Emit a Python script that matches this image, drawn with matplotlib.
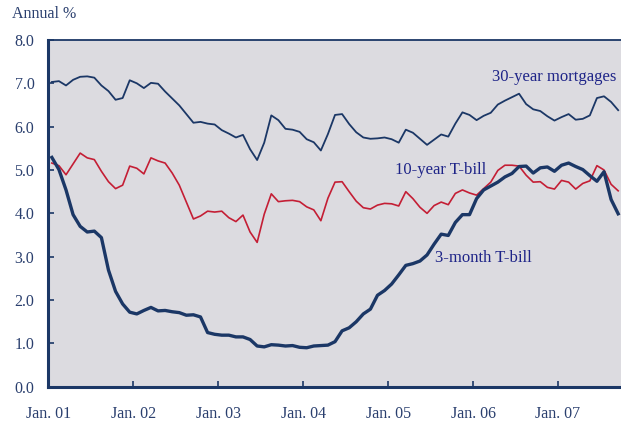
import matplotlib
matplotlib.use("Agg")
import matplotlib.pyplot as plt
import numpy as np

# monthly, Jan 2001 - Sep 2007
bill_3m = [5.29, 5.01, 4.54, 3.97, 3.70, 3.57, 3.59, 3.44, 2.69, 2.20, 1.91, 1.72,
           1.68, 1.76, 1.83, 1.75, 1.76, 1.73, 1.71, 1.65, 1.66, 1.61, 1.25, 1.21,
           1.19, 1.19, 1.15, 1.15, 1.09, 0.94, 0.92, 0.97, 0.96, 0.94, 0.95, 0.91,
           0.90, 0.94, 0.95, 0.96, 1.04, 1.29, 1.36, 1.50, 1.68, 1.79, 2.11, 2.22,
           2.37, 2.58, 2.80, 2.84, 2.90, 3.04, 3.29, 3.52, 3.49, 3.79, 3.97, 3.97,
           4.34, 4.54, 4.63, 4.72, 4.84, 4.92, 5.08, 5.09, 4.93, 5.05, 5.07, 4.97,
           5.11, 5.16, 5.08, 5.01, 4.87, 4.74, 4.96, 4.32, 3.99]
note_10y = [5.16, 5.10, 4.89, 5.14, 5.39, 5.28, 5.24, 4.97, 4.73, 4.57, 4.65, 5.09,
            5.04, 4.91, 5.28, 5.21, 5.16, 4.93, 4.65, 4.26, 3.87, 3.94, 4.05, 4.03,
            4.05, 3.90, 3.81, 3.96, 3.57, 3.33, 3.98, 4.45, 4.27, 4.29, 4.30, 4.27,
            4.15, 4.08, 3.83, 4.35, 4.72, 4.73, 4.50, 4.28, 4.13, 4.10, 4.19, 4.23,
            4.22, 4.17, 4.50, 4.34, 4.14, 4.00, 4.18, 4.26, 4.20, 4.46, 4.54, 4.47,
            4.42, 4.57, 4.72, 4.99, 5.11, 5.11, 5.09, 4.88, 4.72, 4.73, 4.60, 4.56,
            4.76, 4.72, 4.56, 4.69, 4.75, 5.10, 5.00, 4.67, 4.52]
mortgage_30y = [7.03, 7.05, 6.95, 7.08, 7.15, 7.16, 7.13, 6.95, 6.82, 6.62, 6.66, 7.07,
                7.00, 6.89, 7.01, 6.99, 6.81, 6.65, 6.49, 6.29, 6.09, 6.11, 6.07, 6.05,
                5.92, 5.84, 5.75, 5.81, 5.48, 5.23, 5.63, 6.26, 6.15, 5.95, 5.93, 5.88,
                5.71, 5.64, 5.45, 5.83, 6.27, 6.29, 6.06, 5.87, 5.75, 5.72, 5.73, 5.75,
                5.71, 5.63, 5.93, 5.86, 5.72, 5.58, 5.70, 5.82, 5.77, 6.07, 6.33, 6.27,
                6.15, 6.25, 6.32, 6.51, 6.60, 6.68, 6.76, 6.52, 6.40, 6.36, 6.24, 6.14,
                6.22, 6.29, 6.16, 6.18, 6.26, 6.66, 6.70, 6.57, 6.38]
tick_labels = ["Jan. 01", "Jan. 02", "Jan. 03", "Jan. 04", "Jan. 05", "Jan. 06", "Jan. 07"]

navy = "#1B3766"
text_navy = "#2A3F6E"
label_blue = "#1E2488"
red = "#C41E35"

plt.rcParams["font.family"] = ["Liberation Serif", "DejaVu Serif"]

fig = plt.figure(figsize=(6.21, 4.25), dpi=100)
ax = fig.add_axes([0.0778, 0.090, 0.9222, 0.816])
ax.set_facecolor("#DCDBE0")

months = np.arange(len(bill_3m)) + 0.5
ax.plot(months, mortgage_30y, color=navy, lw=1.3)
ax.plot(months, note_10y, color=red, lw=1.2)
ax.plot(months, bill_3m, color=navy, lw=2.4)

ax.set_xlim(0, 80.9)
ax.set_ylim(0, 8)
ax.set_xticks(np.arange(len(tick_labels)) * 12)
ax.set_xticklabels(tick_labels)
ax.set_yticks(np.arange(0, 8.1, 1.0))
ax.set_yticklabels([f"{v:.1f}" for v in np.arange(0, 8.1, 1.0)])

for side in ["left", "bottom"]:
    ax.spines[side].set_color(navy)
    ax.spines[side].set_linewidth(2.2)
ax.spines["top"].set_color(navy)
ax.spines["top"].set_linewidth(1.3)
ax.spines["right"].set_visible(False)

ax.tick_params(axis="both", direction="in", length=4, width=1.2, color=navy,
               labelcolor=text_navy, labelsize=11.5)
ax.tick_params(axis="x", pad=14)
ax.tick_params(axis="y", pad=10)

fig.text(0.019, 0.967, "Annual %", color=text_navy, fontsize=11.5, va="center")

ax.text(0.775, 0.892, "30-year mortgages", transform=ax.transAxes,
        color=label_blue, fontsize=12, va="center")
ax.text(0.605, 0.624, "10-year T-bill", transform=ax.transAxes,
        color=label_blue, fontsize=12, va="center")
ax.text(0.675, 0.370, "3-month T-bill", transform=ax.transAxes,
        color=label_blue, fontsize=12, va="center")

fig.savefig("out.png", dpi=100, facecolor="white")
